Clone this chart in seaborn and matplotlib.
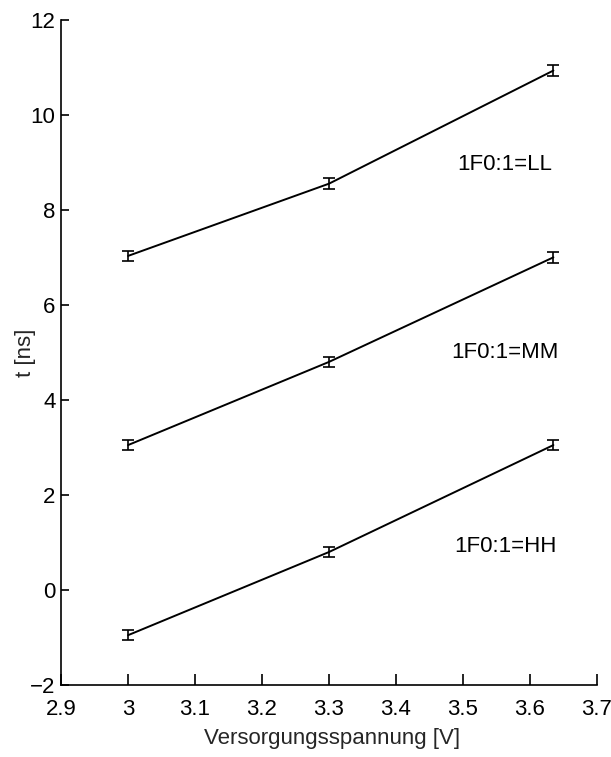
import matplotlib
matplotlib.use("Agg")
import matplotlib.pyplot as plt
import seaborn as sns
import pandas as pd

# Supply voltage and delay measurements for the three corner settings
voltage = [3.0, 3.3, 3.635]
delay_ll = [7.03, 8.55, 10.93]
delay_mm = [3.05, 4.80, 7.00]
delay_hh = [-0.95, 0.80, 3.05]
err_ll = [0.11, 0.11, 0.11]
err_mm = [0.11, 0.11, 0.11]
err_hh = [0.11, 0.11, 0.11]
series_names = ["1F0:1=LL", "1F0:1=MM", "1F0:1=HH"]
label_pos = [(3.563, 8.95), (3.563, 5.0), (3.563, 0.92)]

x_ticks = [2.9, 3.0, 3.1, 3.2, 3.3, 3.4, 3.5, 3.6, 3.7]
x_ticklabels = ["2.9", "3", "3.1", "3.2", "3.3", "3.4", "3.5", "3.6", "3.7"]
y_ticks = [-2, 0, 2, 4, 6, 8, 10, 12]

sns.set_theme(style="ticks")
plt.rcParams["font.family"] = ["Liberation Sans", "DejaVu Sans"]

frames = []
for name, ys in zip(series_names, [delay_ll, delay_mm, delay_hh]):
    frames.append(pd.DataFrame({"U": voltage, "t": ys, "setting": name}))
df = pd.concat(frames, ignore_index=True)

fig = plt.figure(figsize=(6.11, 7.57), dpi=100)
ax = fig.add_axes([0.100, 0.095, 0.877, 0.879])

sns.lineplot(data=df, x="U", y="t", units="setting", estimator=None,
             color="black", linewidth=1.4, ax=ax, legend=False)

for ys, es in zip([delay_ll, delay_mm, delay_hh], [err_ll, err_mm, err_hh]):
    ax.errorbar(voltage, ys, yerr=es, fmt="none", ecolor="black",
                elinewidth=1.2, capsize=4.5, capthick=1.2)

for name, (tx, ty) in zip(series_names, label_pos):
    ax.text(tx, ty, name, ha="center", va="center", fontsize=16, color="black")

ax.set_xlim(2.9, 3.7)
ax.set_ylim(-2, 12)
ax.set_xticks(x_ticks)
ax.set_xticklabels(x_ticklabels)
ax.set_yticks(y_ticks)
ax.tick_params(axis="both", direction="in", labelsize=16, colors="black",
               width=1.2)
ax.tick_params(axis="x", length=8, pad=10)
ax.tick_params(axis="y", length=6, pad=4)
for side in ["top", "right"]:
    ax.spines[side].set_visible(False)
for side in ["left", "bottom"]:
    ax.spines[side].set_linewidth(1.2)
    ax.spines[side].set_color("black")

ax.set_xlabel("Versorgungsspannung [V]", fontsize=16)
ax.set_ylabel("t [ns]", fontsize=16)
ax.xaxis.set_label_coords(0.505, -0.064)
ax.yaxis.set_label_coords(-0.047, 0.5)

fig.savefig("out.png", dpi=100, facecolor="white")
